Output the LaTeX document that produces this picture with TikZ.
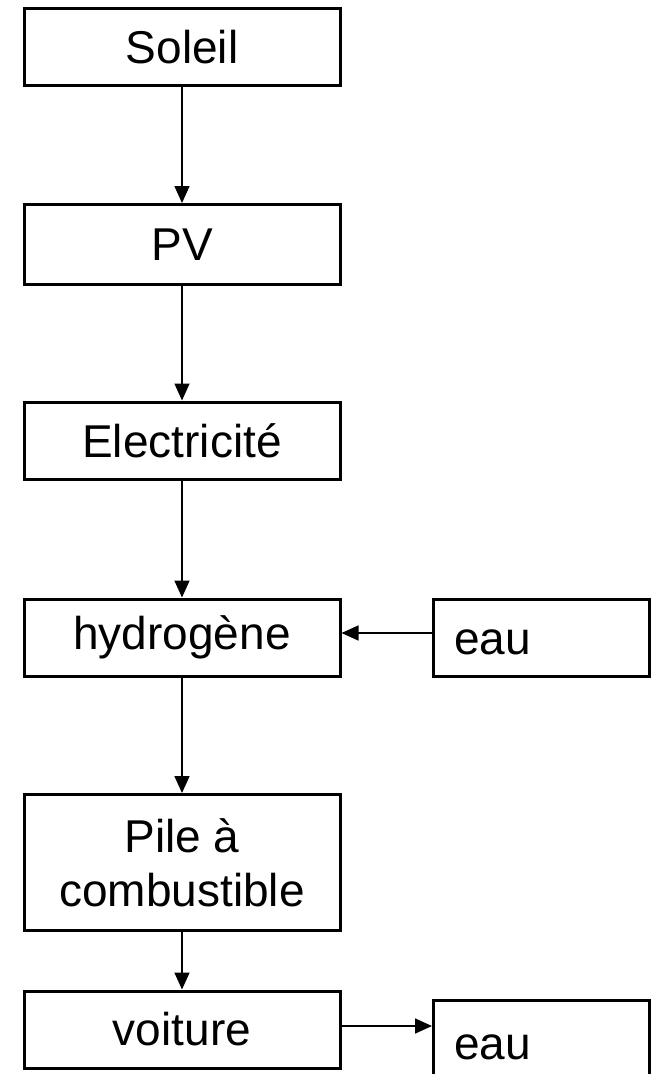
\documentclass[tikz,border=0pt]{standalone}
\usepackage{fontspec}
\setmainfont{Liberation Sans}
\usetikzlibrary{arrows.meta}
\begin{document}
\begin{tikzpicture}[x=1pt,y=1pt,
 box/.style={draw=black, line width=3pt, minimum width=316pt, minimum height=77pt, inner sep=0pt, font=\fontsize{46}{54}\selectfont, align=center},
 sidebox/.style={draw=black, line width=3pt, minimum width=216pt, minimum height=77pt, inner sep=0pt},
 lbl/.style={font=\fontsize{46}{54}\selectfont, anchor=base west, inner sep=0pt},
 arr/.style={line width=1.6pt, -{Triangle[length=17pt,width=15pt]}}]
\useasboundingbox (0,0) rectangle (656,-1074);
\clip (0,0) rectangle (656,-1074);
\node[box] (sol) at (182,-47) {Soleil};
\node[box, minimum height=80pt] (pv) at (182,-244.5) {PV};
\node[box] (ele) at (182,-440.5) {Electricit\'e};
\node[box] (hyd) at (182,-637.5) {hydrog\`ene};
\node[box, minimum height=136pt] (pile) at (182,-862.5) {Pile \`a\\combustible};
\node[box] (voit) at (182,-1029.5) {voiture};
\node[sidebox] (eau1) at (541.5,-638) {};
\node[lbl] (eau1t) at (454,-654) {eau};
\node[sidebox, minimum height=140pt] (eau2) at (541.5,-1070.5) {};
\node[lbl] (eau2t) at (454,-1059) {eau};
\draw[arr] (sol) -- (pv);
\draw[arr] (pv) -- (ele);
\draw[arr] (ele) -- (hyd);
\draw[arr] (hyd) -- (pile);
\draw[arr] (pile) -- (voit);
\draw[arr] ([yshift=5pt]eau1.west) -- ([yshift=5pt]eau1.west -| hyd.east);
\draw[arr] ([yshift=3.5pt]voit.east) -- ([yshift=3.5pt]voit.east -| eau2.west);
\end{tikzpicture}
\end{document}
